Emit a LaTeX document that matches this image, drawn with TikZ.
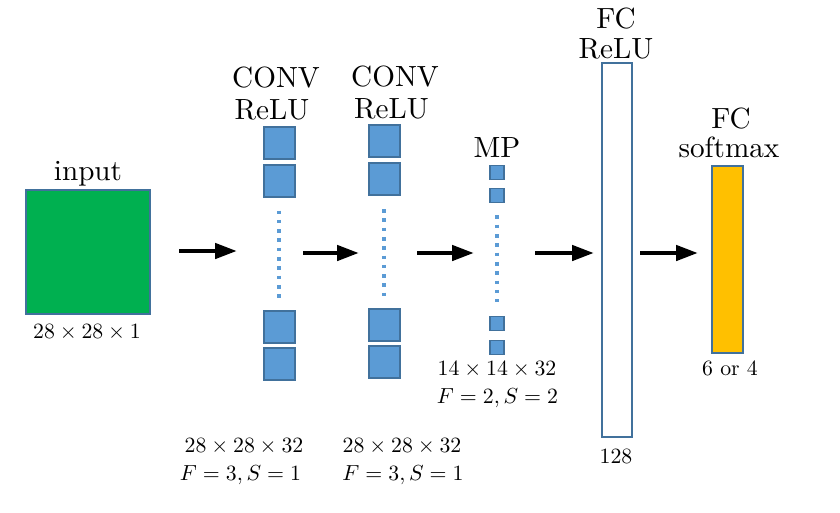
\documentclass[tikz,border=0pt]{standalone}
\usetikzlibrary{arrows.meta}
\definecolor{ingreen}{RGB}{0,176,80}
\definecolor{fmblue}{RGB}{91,155,213}
\definecolor{edgeblue}{RGB}{65,113,156}
\definecolor{outgold}{RGB}{255,192,0}
\tikzset{
  big/.style={font=\normalsize, scale=2.92, inner sep=0pt, anchor=base},
  small/.style={font=\normalsize, scale=2.18, inner sep=0pt, anchor=base},
  fmap/.style={draw=edgeblue, fill=fmblue, line width=2pt, inner sep=0pt, minimum width=31pt, minimum height=32pt},
  pmap/.style={draw=edgeblue, fill=fmblue, line width=1.8pt, inner sep=0pt, minimum width=14pt, minimum height=14pt},
  dotline/.style={draw=fmblue, line width=3.6pt, dash pattern=on 3.6pt off 5.7pt},
  flow/.style={line width=4.5pt, -{Triangle[length=22pt,width=15pt]}},
}
\begin{document}
\begin{tikzpicture}[x=1pt,y=-1pt]
\useasboundingbox (0,0) rectangle (840,512);
% input
\node[draw=edgeblue, fill=ingreen, line width=2pt, inner sep=0pt, minimum width=124pt, minimum height=124pt] (inp) at (87.5,251.5) {};
\node[big] (inplab) at (88,180) {input};
\node[small] (inpdim) at (87,338) {$28\times28\times1$};
% conv 1
\node[fmap] (c1a) at (279,143) {};
\node[fmap] (c1b) at (279,180.5) {};
\node[fmap] (c1c) at (279,326.5) {};
\node[fmap] (c1d) at (279,363.5) {};
\draw[dotline] ([yshift=-13pt]c1b.south) -- ([yshift=12pt]c1c.north);
\node[big] (c1t1) at (276,87.5) {CONV};
\node[big] (c1t2) at (272,119.3) {ReLU};
\node[small] (c1d1) at (244,452) {$28\times28\times32$};
\node[small] (c1d2) at (240.5,480) {$F=3,S=1$};
% conv 2
\node[fmap] (c2a) at (384,141) {};
\node[fmap] (c2b) at (384,179) {};
\node[fmap] (c2c) at (384,324.5) {};
\node[fmap] (c2d) at (384,362) {};
\draw[dotline] ([yshift=-13pt]c2b.south) -- ([yshift=11pt]c2c.north);
\node[big] (c2t1) at (395,86.7) {CONV};
\node[big] (c2t2) at (391.5,118.3) {ReLU};
\node[small] (c2d1) at (402,452) {$28\times28\times32$};
\node[small] (c2d2) at (403,480) {$F=3,S=1$};
% max pool
\node[pmap] (mpa) at (497,172.5) {};
\node[pmap] (mpb) at (497,195.5) {};
\node[pmap] (mpc) at (497,323.5) {};
\node[pmap] (mpd) at (497,347.5) {};
\draw[dotline] ([yshift=-12pt]mpb.south) -- ([yshift=14pt]mpc.north);
\node[big] (mpt) at (497,157) {MP};
\node[small] (mpd1) at (497,375) {$14\times14\times32$};
\node[small] (mpd2) at (497.5,403) {$F=2,S=2$};
% FC relu
\node[draw=edgeblue, fill=white, line width=2.2pt, inner sep=0pt, minimum width=30pt, minimum height=374pt] (fc1) at (617,250) {};
\node[big] (fc1t1) at (616,28) {FC};
\node[big] (fc1t2) at (616,58) {ReLU};
\node[small] (fc1d) at (616,463) {128};
% FC softmax
\node[draw=edgeblue, fill=outgold, line width=2.2pt, inner sep=0pt, minimum width=31pt, minimum height=187pt] (fc2) at (727.5,259.5) {};
\node[big] (fc2t1) at (731,128) {FC};
\node[big] (fc2t2) at (729,157) {softmax};
\node[small] (fc2d) at (730,375) {6 or 4};
% arrows
\coordinate (a1s) at (179,251); \coordinate (a1e) at (237,251);
\coordinate (a2s) at (303,253); \coordinate (a2e) at (359,253);
\coordinate (a3s) at (417,253); \coordinate (a3e) at (474,253);
\coordinate (a4s) at (535,253); \coordinate (a4e) at (594,253);
\coordinate (a5s) at (640,253); \coordinate (a5e) at (698,253);
\draw[flow] (a1s) -- (a1e);
\draw[flow] (a2s) -- (a2e);
\draw[flow] (a3s) -- (a3e);
\draw[flow] (a4s) -- (a4e);
\draw[flow] (a5s) -- (a5e);
\end{tikzpicture}
\end{document}
